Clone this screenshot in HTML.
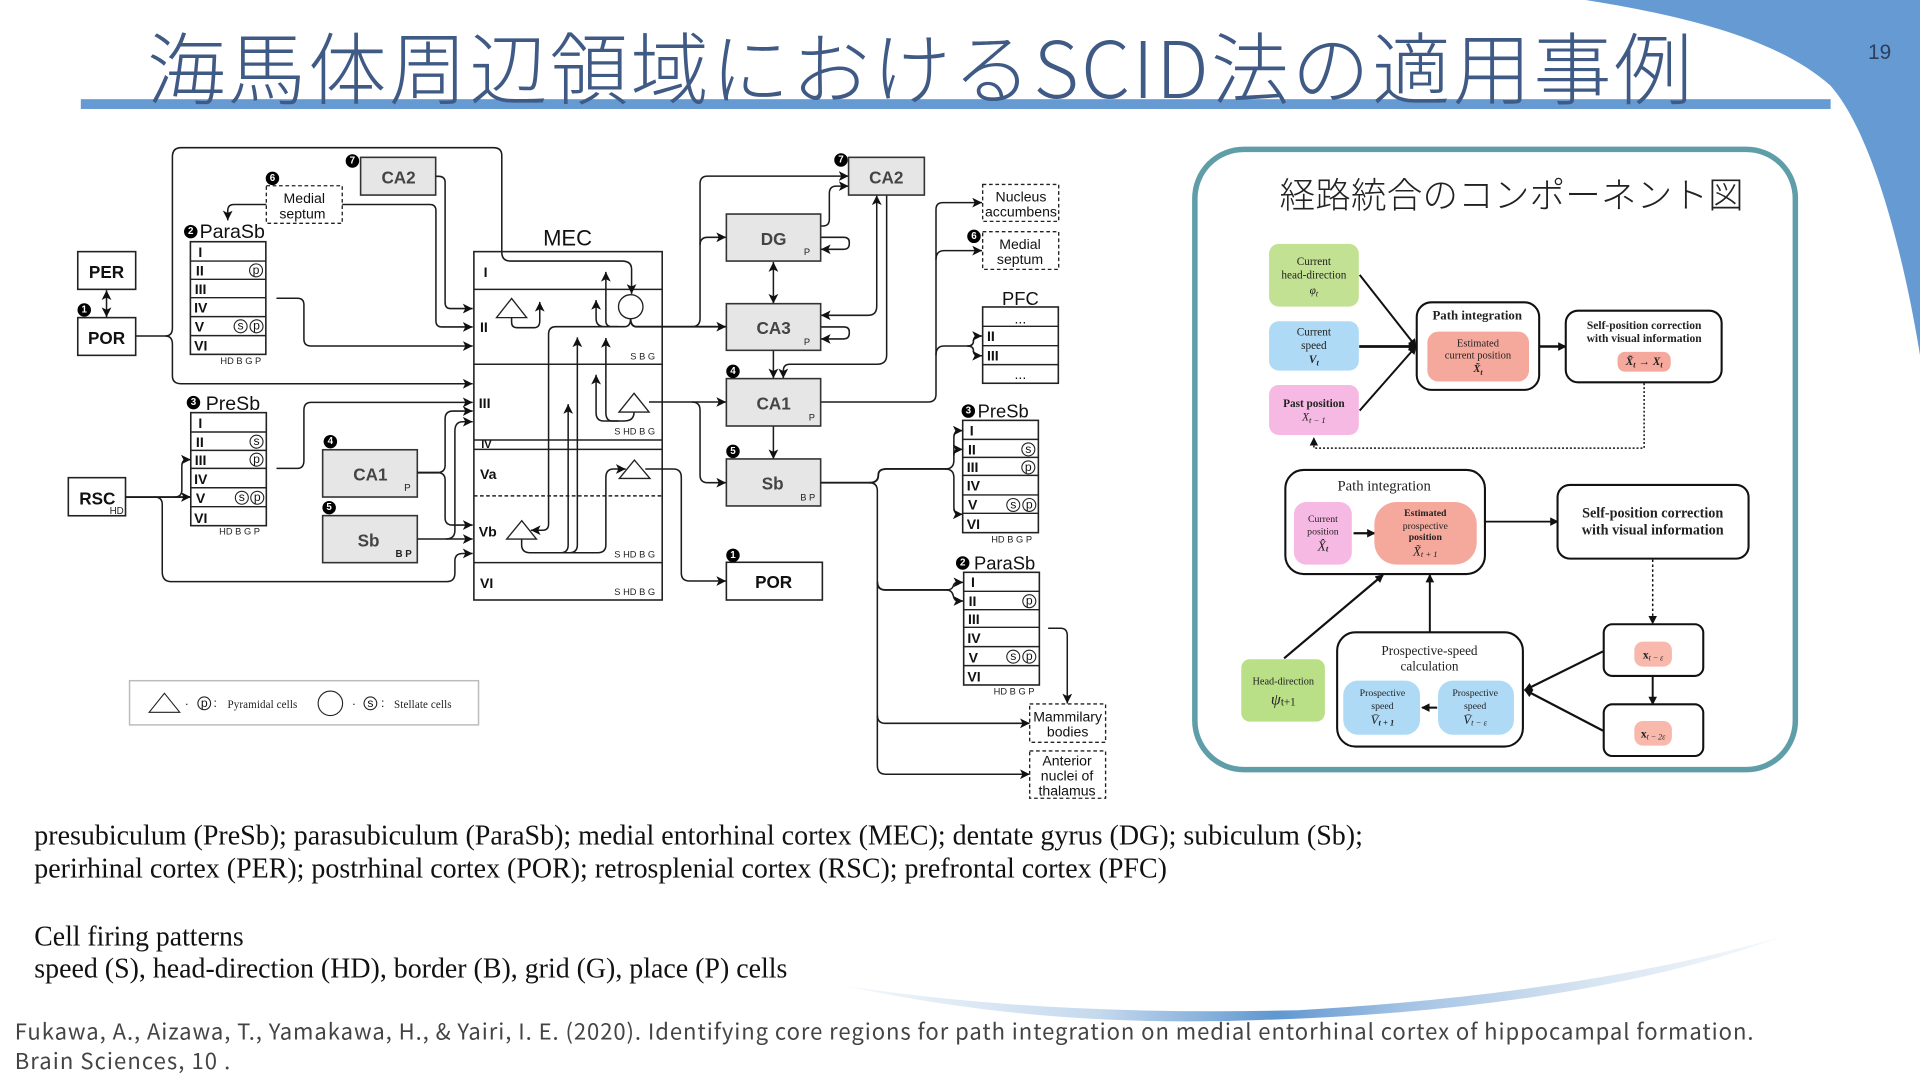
<!DOCTYPE html>
<html lang="ja"><head><meta charset="utf-8"><title>海馬体周辺領域におけるSCID法の適用事例</title>
<style>
html,body{margin:0;padding:0;background:#fff;width:1920px;height:1080px;overflow:hidden}
svg{display:block}
text{font-family:"Liberation Sans","Noto Sans CJK JP",sans-serif;fill:#111}
.w{fill:none;stroke:#1c1c1c;stroke-width:1.25}
.a{marker-end:url(#ah)}
.box{fill:#fff;stroke:#222;stroke-width:1.3}
.gb{fill:#e6e6e6;stroke:#333;stroke-width:1.3}
.dash{fill:#fff;stroke:#222;stroke-width:1.1;stroke-dasharray:3 2.2}
.rl{stroke:#222;stroke-width:1.2}
.b{font-weight:bold;font-size:14px;text-anchor:middle;dominant-baseline:central;fill:#111}
.g{font-weight:bold;font-size:14px;text-anchor:middle;dominant-baseline:central;fill:#444}
.r{font-weight:bold;font-size:11.5px;dominant-baseline:central}
.t{font-size:11.5px;text-anchor:middle;dominant-baseline:central}
.tt{font-size:16px}
.s{font-size:7.6px;dominant-baseline:central;fill:#222}
.n{fill:#000}
.nt{fill:#fff;font-size:8px;font-weight:bold;text-anchor:middle;dominant-baseline:central}
.cc{fill:#fff;stroke:#222;stroke-width:.9}
.ct{font-size:10px;text-anchor:middle;dominant-baseline:central}
.ser{font-family:"Liberation Serif","Noto Serif CJK SC",serif;text-anchor:middle;dominant-baseline:central;fill:#222}
.cb{fill:#fff;stroke:#111;stroke-width:1.7}
.cl{fill:none;stroke:#111;stroke-width:1.6}
.body{font-family:"Liberation Serif",serif;font-size:23px;fill:#111}
.cite{font-family:"Noto Sans CJK JP","Liberation Sans",sans-serif;font-size:18px;fill:#444}
</style></head><body>
<svg xmlns="http://www.w3.org/2000/svg" width="1920" height="1080" viewBox="0 0 1568 882">
<defs>
<marker id="ah" markerUnits="userSpaceOnUse" markerWidth="9" markerHeight="9" refX="8" refY="4" orient="auto"><path d="M0 0L8 4L0 8L2 4Z" fill="#111"/></marker>
<marker id="ah2" markerUnits="userSpaceOnUse" markerWidth="9" markerHeight="9" refX="8" refY="4" orient="auto-start-reverse"><path d="M0 0L8 4L0 8L2 4Z" fill="#111"/></marker>
<marker id="ak" markerUnits="userSpaceOnUse" markerWidth="8" markerHeight="8" refX="6" refY="3.5" orient="auto"><path d="M0 0L7 3.5L0 7Z" fill="#111"/></marker>
<linearGradient id="sw" gradientUnits="userSpaceOnUse" x1="690" y1="0" x2="1455" y2="0">
<stop offset="0" stop-color="#f4f8fb"/><stop offset=".27" stop-color="#c5d9ee"/><stop offset=".46" stop-color="#5f97d0"/><stop offset=".6" stop-color="#a5c3e4"/><stop offset=".8" stop-color="#d8e5f2"/><stop offset="1" stop-color="#f6f9fc"/>
</linearGradient>
</defs>

<path d="M1295 0C1370 12 1450 30 1495 70C1530 110 1555 210 1568 290V0Z" fill="#659ad2"/>
<rect x="66" y="81" width="1429" height="8" fill="#659ad2"/>
<text x="120" y="80" font-size="64" font-weight="300" textLength="1262" lengthAdjust="spacing" style="font-family:'Noto Sans CJK JP','Liberation Sans',sans-serif;fill:#3f5a85">海馬体周辺領域におけるSCID法の適用事例</text>
<text x="1535" y="48" font-size="17" text-anchor="middle" style="fill:#2d3f5c">19</text>
<path d="M690 805Q850 840 1030 833Q1290 825 1455 765Q1290 812 1060 825Q850 830 690 805Z" fill="url(#sw)"/>

<!-- LEFT -->
<rect class="box" x="63.5" y="205.5" width="47.3" height="30.8"/><text class="b" x="87" y="222">PER</text>
<rect class="box" x="63.5" y="259.4" width="47.3" height="30.8"/><text class="b" x="87" y="276">POR</text>
<path class="w" d="M87 237V259" marker-start="url(#ah2)" marker-end="url(#ah2)"/>
<circle class="n" cx="68.8" cy="253.2" r="5.5"/><text class="nt" x="68.8" y="253.2">1</text>

<rect class="box" x="155.5" y="197.4" width="61.6" height="92"/>
<path class="rl" d="M155.5 213.2H217M155.5 228.1H217M155.5 243.1H217M155.5 258.6H217M155.5 274.1H217"/>
<g class="r"><text class="r" x="162" y="206">I</text><text class="r" x="160" y="221">II</text><text class="r" x="159" y="236">III</text><text class="r" x="158.5" y="251">IV</text><text class="r" x="159" y="266.5">V</text><text class="r" x="158.5" y="282">VI</text></g>
<circle class="cc" cx="209.1" cy="220.8" r="5.3"/><text class="ct" x="209.1" y="220.5">p</text>
<circle class="cc" cx="196.5" cy="266.5" r="5.3"/><text class="ct" x="196.5" y="266">s</text>
<circle class="cc" cx="209.5" cy="266.5" r="5.3"/><text class="ct" x="209.5" y="266">p</text>
<text class="s" x="180" y="295">HD B G P</text>
<text class="tt" x="163" y="194.5">ParaSb</text>
<circle class="n" cx="155.8" cy="189.2" r="5.5"/><text class="nt" x="155.8" y="189.2">2</text>

<rect class="gb" x="294.5" y="128.5" width="61.3" height="30.8"/><text class="g" x="325.5" y="145">CA2</text>
<circle class="n" cx="287.8" cy="131.5" r="5.5"/><text class="nt" x="287.8" y="131.5">7</text>
<rect class="dash" x="217.5" y="151.7" width="62" height="30.7"/>
<text class="t" x="248.5" y="161.5">Medial</text><text class="t" x="247" y="174.5">septum</text>
<circle class="n" cx="222.5" cy="145.7" r="5.5"/><text class="nt" x="222.5" y="145.7">6</text>

<path class="w a" d="M217.5 167H191Q186 167 186 172V180"/>
<path class="w a" d="M279.5 167H351Q356 167 356 172V262Q356 267 361 267H386"/>
<path class="w a" d="M355.8 144H358Q363.5 144 363.5 149V247Q363.5 252 368 252H386"/>
<path class="w a" d="M135 274.4Q140.8 274.4 140.8 281V307Q140.8 313.4 148 313.4H386"/>
<path class="w a" d="M225.8 243.6H243Q248.2 243.6 248.2 249V277Q248.2 282.6 254 282.6H386"/>

<!-- MEC -->
<rect class="box" x="387" y="205.5" width="153.8" height="284.5"/>
<path class="rl" d="M387 236.3H541M387 297.5H541M387 359.3H541M387 367H541M387 459.5H541"/>
<path class="rl" d="M387 405H541" stroke-dasharray="3 2"/>
<path class="w a" d="M110.8 274.4H135Q140.8 274.4 140.8 268V128Q140.8 120.6 148 120.6H403Q409.8 120.6 409.8 127V206Q409.8 213.2 417 213.2H508Q515.8 213.2 515.8 220V240"/>
<text class="b" x="463.5" y="194.5" style="font-weight:normal;font-size:18px">MEC</text>
<text class="r" x="395" y="222">I</text><text class="r" x="392" y="267">II</text><text class="r" x="391" y="329">III</text><text class="r" x="393" y="363.4" style="font-size:9px">IV</text><text class="r" x="392" y="387">Va</text><text class="r" x="391" y="434">Vb</text><text class="r" x="392" y="476">VI</text>
<text class="s" x="535" y="291" text-anchor="end">S B G</text>
<text class="s" x="535" y="352.5" text-anchor="end">S HD B G</text>
<text class="s" x="535" y="452.7" text-anchor="end">S HD B G</text>
<text class="s" x="535" y="483.5" text-anchor="end">S HD B G</text>

<path class="w a" d="M515 260Q515 266.8 510 266.8H454Q448 266.8 448 273V428Q448 433 443 433H433.5"/>
<path class="w a" d="M515 260Q515 266.8 520 266.8H593" style="stroke-width:1.5"/>
<path class="w a" d="M505 266.8H500Q494.8 266.8 494.8 262V222"/>
<path class="w a" d="M494 266.8Q486.8 266.8 486.8 260V245"/>
<path class="w a" d="M417.8 259.4V263Q417.8 267.6 422 267.6H436Q440.8 267.6 440.8 262V246.5"/>
<path class="w a" d="M517.8 336.5Q517.8 343.8 510 343.8H493Q486.8 343.8 486.8 337V306"/>
<path class="w a" d="M505 343.8H500Q494.8 343.8 494.8 337V276"/>
<path class="w a" d="M530 328.3H593"/>
<path class="w a" d="M426 440V445Q426 451.4 433 451.4H488Q494.8 451.4 494.8 445V390Q494.8 383 501 383H511"/>
<path class="w a" d="M458 451.4Q464 451.4 464 445V330"/>
<path class="w a" d="M465 451.4Q471.5 451.4 471.5 445V275.5"/>
<path class="w a" d="M527 383H550Q556.4 383 556.4 390V468Q556.4 474.5 563 474.5H593"/>
<path class="box" d="M417.8 243.7L430.1 259.4H405.5Z" style="stroke-width:1.1"/>
<ellipse class="box" cx="515.1" cy="250.5" rx="10" ry="9.8" style="fill:none;stroke-width:1.1"/>
<path class="box" d="M517.8 321.2L530.1 336.5H505.5Z" style="stroke-width:1.1"/>
<path class="box" d="M518.1 375.7L530.8 390.7H505.8Z" style="stroke-width:1.1"/>
<path class="box" d="M426.1 425.2L438.1 440.2H413.8Z" style="stroke-width:1.1"/>

<!-- PreSb left -->
<rect class="box" x="155.8" y="337" width="61.7" height="92.3"/>
<path class="rl" d="M155.8 352.8H217.5M155.8 367.8H217.5M155.8 382.5H217.5M155.8 398.3H217.5M155.8 413.8H217.5"/>
<text class="r" x="162" y="345.5">I</text><text class="r" x="160" y="361">II</text><text class="r" x="159" y="375.5">III</text><text class="r" x="158.5" y="391">IV</text><text class="r" x="160" y="406.5">V</text><text class="r" x="158.5" y="423">VI</text>
<circle class="cc" cx="209.5" cy="360.7" r="5.3"/><text class="ct" x="209.5" y="360.2">s</text>
<circle class="cc" cx="209.5" cy="375.4" r="5.3"/><text class="ct" x="209.5" y="375">p</text>
<circle class="cc" cx="197.5" cy="406.5" r="5.3"/><text class="ct" x="197.5" y="406">s</text>
<circle class="cc" cx="210.1" cy="406.5" r="5.3"/><text class="ct" x="210.1" y="406">p</text>
<text class="s" x="179" y="434.2">HD B G P</text>
<text class="tt" x="168" y="335">PreSb</text>
<circle class="n" cx="158" cy="328.8" r="5.5"/><text class="nt" x="158" y="328.8">3</text>
<rect class="box" x="55.8" y="390.1" width="46.7" height="31.1"/><text class="b" x="79.5" y="407">RSC</text><text class="s" x="89.5" y="417.6" style="font-size:8px">HD</text>
<path class="w a" d="M102.5 405.9H155.8" style="stroke-width:1.5"/>
<path class="w a" d="M143 405.9Q148.5 405.9 148.5 400V381Q148.5 375.4 153 375.4H155.8"/>
<path class="w a" d="M126 405.9Q132.5 405.9 132.5 412V467Q132.5 475 140 475H365Q371.5 475 371.5 468V458Q371.5 452 378 452H386"/>
<path class="w a" d="M225.8 382.5H243Q248.2 382.5 248.2 376V335Q248.2 328.6 254 328.6H386"/>

<rect class="gb" x="263.5" y="367.3" width="77.3" height="38.6"/><text class="g" x="302.5" y="387.5">CA1</text><text class="s" x="330" y="398.8" style="font-size:8px">P</text>
<circle class="n" cx="269.8" cy="360.7" r="5.5"/><text class="nt" x="269.8" y="360.7">4</text>
<rect class="gb" x="263.5" y="421.1" width="77.3" height="38.4"/><text class="g" x="301" y="441.5">Sb</text><text class="s" x="323" y="453" style="font-size:8px;font-weight:bold">B P</text>
<circle class="n" cx="268.8" cy="414.6" r="5.5"/><text class="nt" x="268.8" y="414.6">5</text>
<path class="w" d="M340.8 386H358" style="stroke-width:1.6"/>
<path class="w a" d="M357 386Q363.5 386 363.5 380V342Q363.5 335.7 370 335.7H386"/>
<path class="w a" d="M357 386Q363.5 386 363.5 392V423Q363.5 428.8 370 428.8H386"/>
<path class="w a" d="M340.8 440.2H386"/>
<path class="w a" d="M364 440.2Q371.5 440.2 371.5 433V352Q371.5 344.4 378 344.4H386"/>

<!-- legend -->
<rect x="105.8" y="555.9" width="285" height="36.1" fill="#fff" stroke="#bbb" stroke-width="1.2"/>
<path d="M134.3 566.2L146.8 581.7H121.8Z" fill="#fff" stroke="#222" stroke-width=".9"/>
<text class="ct" x="152.5" y="574.5">·</text>
<circle class="cc" cx="166.8" cy="574.4" r="5.2"/><text class="ct" x="166.8" y="574">p</text>
<text class="ct" x="175.8" y="574">:</text>
<text x="185.8" y="578" font-size="9" textLength="57" style="font-family:'Liberation Serif',serif;fill:#222">Pyramidal cells</text>
<circle class="cc" cx="269.8" cy="574.4" r="10"/>
<text class="ct" x="289" y="574.5">·</text>
<circle class="cc" cx="302.5" cy="574.4" r="5.2"/><text class="ct" x="302.5" y="574">s</text>
<text class="ct" x="312.5" y="574">:</text>
<text x="321.8" y="578" font-size="9" textLength="47" style="font-family:'Liberation Serif',serif;fill:#222">Stellate cells</text>

<!-- HIPPOCAMPUS -->
<path class="w a" d="M565 266.8Q571.7 266.8 571.7 260V150Q571.7 143.8 578 143.8H693"/>
<path class="w a" d="M571.7 200Q571.7 193.8 578 193.8H593"/>
<path class="w a" d="M670.2 184.6H672Q677.3 184.6 677.3 179V158Q677.3 152 683 152H693"/>
<path class="w a" d="M670 193.8H689Q693.6 193.8 693.6 198V199Q693.6 203.6 689 203.6H670.4"/>
<path class="w" d="M631.6 214V248" marker-start="url(#ah2)" marker-end="url(#ah2)"/>
<path class="w" d="M716 159.5V250Q716 257.5 709 257.5H670.4" marker-start="url(#ah2)" marker-end="url(#ah2)"/>
<path class="w a" d="M670 267H689Q693.6 267 693.6 271V272Q693.6 276.8 689 276.8H670.4"/>
<path class="w a" d="M724.1 159.3V290Q724.1 297.5 716 297.5H645Q639.7 297.5 639.7 303V309"/>
<path class="w a" d="M631.6 286V309"/>
<path class="w a" d="M631.6 348V375"/>
<path class="w a" d="M565 328.3Q571.7 328.3 571.7 335V388Q571.7 394.2 578 394.2H593"/>
<path class="w a" d="M670.2 328.3H758Q764.4 328.3 764.4 322V171Q764.4 165.5 770 165.5H802"/>
<path class="w a" d="M764.4 212Q764.4 204.7 771 204.7H802"/>
<path class="w" d="M764.4 290Q764.4 282.6 771 282.6H792"/>
<path class="w a" d="M790 282.6Q795 282.6 795 278.5T800 274.4H802"/>
<path class="w a" d="M790 282.6Q795 282.6 795 286.5T800 290.5H802"/>

<rect class="gb" x="693" y="128.5" width="61.9" height="30.8"/><text class="g" x="723.8" y="145">CA2</text>
<circle class="n" cx="686.8" cy="130.7" r="5.5"/><text class="nt" x="686.8" y="130.7">7</text>
<rect class="gb" x="593.2" y="174.8" width="77" height="38.4"/><text class="g" x="631.8" y="195">DG</text><text class="s" x="656.5" y="206">P</text>
<rect class="gb" x="593.2" y="248" width="77" height="38.1"/><text class="g" x="631.8" y="268">CA3</text><text class="s" x="656.5" y="279.3">P</text>
<rect class="gb" x="593.2" y="309.2" width="77" height="38.7"/><text class="g" x="631.8" y="329.7">CA1</text><text class="s" x="660.5" y="340.8">P</text>
<circle class="n" cx="598.6" cy="303.3" r="5.5"/><text class="nt" x="598.6" y="303.3">4</text>
<rect class="gb" x="593.2" y="374.8" width="77" height="38.4"/><text class="g" x="631" y="395">Sb</text><text class="s" x="653.5" y="406.4">B P</text>
<circle class="n" cx="598.6" cy="368.6" r="5.5"/><text class="nt" x="598.6" y="368.6">5</text>
<rect class="box" x="593.2" y="459.2" width="78.4" height="30.8"/><text class="b" x="631.8" y="475.5">POR</text>
<circle class="n" cx="598.6" cy="453.5" r="5.5"/><text class="nt" x="598.6" y="453.5">1</text>

<!-- right targets -->
<rect class="dash" x="802.5" y="150.6" width="62.1" height="30.2"/><text class="t" x="833.8" y="160.6">Nucleus</text><text class="t" x="833.8" y="172.9">accumbens</text>
<rect class="dash" x="802.5" y="189.2" width="62.1" height="30.8"/><text class="t" x="833" y="199.3">Medial</text><text class="t" x="833" y="211.5">septum</text>
<circle class="n" cx="795.4" cy="193" r="5.5"/><text class="nt" x="795.4" y="193">6</text>
<rect class="box" x="802.5" y="250.7" width="61.8" height="62.3"/>
<path class="rl" d="M802.5 266.5H864.3M802.5 282.3H864.3M802.5 297.8H864.3"/>
<text class="t" x="833.3" y="243.7" style="font-size:15px">PFC</text>
<text class="t" x="833.3" y="260">...</text><text class="r" x="806" y="274.5">II</text><text class="r" x="806" y="290.5">III</text><text class="t" x="833.3" y="305.5">...</text>

<rect class="box" x="786.2" y="343.3" width="61.8" height="91.7"/>
<path class="rl" d="M786.2 358.8H848M786.2 373.5H848M786.2 388.2H848M786.2 404.2H848M786.2 419.2H848"/>
<text class="r" x="792" y="351.5">I</text><text class="r" x="790.5" y="367">II</text><text class="r" x="789.5" y="381.5">III</text><text class="r" x="789.5" y="396.5">IV</text><text class="r" x="790.5" y="412">V</text><text class="r" x="789.5" y="428">VI</text>
<circle class="cc" cx="839.8" cy="367" r="5.3"/><text class="ct" x="839.8" y="366.5">s</text>
<circle class="cc" cx="839.8" cy="381.7" r="5.3"/><text class="ct" x="839.8" y="381.2">p</text>
<circle class="cc" cx="827.5" cy="412.4" r="5.3"/><text class="ct" x="827.5" y="412">s</text>
<circle class="cc" cx="840.6" cy="412.4" r="5.3"/><text class="ct" x="840.6" y="412">p</text>
<text class="s" x="809.5" y="440.4">HD B G P</text>
<text class="tt" x="798.4" y="341" style="font-size:15px">PreSb</text>
<circle class="n" cx="790.8" cy="335.7" r="5.5"/><text class="nt" x="790.8" y="335.7">3</text>

<rect class="box" x="787" y="467.4" width="61.8" height="92"/>
<path class="rl" d="M787 482.9H848.8M787 497.9H848.8M787 512.3H848.8M787 528.1H848.8M787 543.6H848.8"/>
<text class="r" x="793" y="475.5">I</text><text class="r" x="791" y="491">II</text><text class="r" x="790.5" y="505.5">III</text><text class="r" x="790" y="521">IV</text><text class="r" x="791" y="537">V</text><text class="r" x="790" y="552.5">VI</text>
<circle class="cc" cx="840.6" cy="491" r="5.3"/><text class="ct" x="840.6" y="490.5">p</text>
<circle class="cc" cx="827.5" cy="536.3" r="5.3"/><text class="ct" x="827.5" y="535.8">s</text>
<circle class="cc" cx="840.6" cy="536.3" r="5.3"/><text class="ct" x="840.6" y="535.8">p</text>
<text class="s" x="811.5" y="564.8">HD B G P</text>
<text class="tt" x="795.4" y="465" style="font-size:15px">ParaSb</text>
<circle class="n" cx="786.2" cy="459.8" r="5.5"/><text class="nt" x="786.2" y="459.8">2</text>

<path class="w" d="M670.2 394.2H711" style="stroke-width:1.6"/>
<path class="w" d="M710 394.2Q717.3 394.2 717.3 388Q717.3 383 724 383H773" style="stroke-width:1.5"/>
<path class="w a" d="M772 383Q779 383 779 376V358Q779 351.7 784 351.7H786.2"/>
<path class="w a" d="M779 372Q779 367 784 367H786.2"/>
<path class="w a" d="M772 383Q779 383 779 390V414Q779 420 784 420H786.2"/>
<path class="w" d="M710 394.2Q716.5 394.2 716.5 401V625Q716.5 632.3 723 632.3H841" marker-end="url(#ah)"/>
<path class="w" d="M716.5 475Q716.5 481.8 723 481.8H775" style="stroke-width:1.5"/>
<path class="w a" d="M773 481.8Q777.5 481.8 778.5 478.5T783 475.6H786.7"/>
<path class="w a" d="M773 481.8Q777.5 481.8 778.5 486.5T783 490.8H786.7"/>
<path class="w a" d="M716.5 584Q716.5 590.7 723 590.7H841"/>
<path class="w a" d="M856 513.1H866Q871.6 513.1 871.6 519V574.5"/>
<rect class="dash" x="840.9" y="574.9" width="62" height="31.3"/><text class="t" x="871.9" y="585">Mammilary</text><text class="t" x="871.9" y="597.5">bodies</text>
<rect class="dash" x="840.9" y="613.3" width="62" height="38.6"/><text class="t" x="871.4" y="621.2">Anterior</text><text class="t" x="871.4" y="633.4">nuclei of</text><text class="t" x="871.4" y="645.7">thalamus</text>

<!-- CARD -->
<rect x="975.8" y="122" width="490.4" height="506.5" rx="40" fill="#fff" stroke="#5f9ea8" stroke-width="4.5"/>
<text x="1045" y="169.5" font-size="29" font-weight="300" textLength="379" lengthAdjust="spacing" style="font-family:'Noto Sans CJK JP',sans-serif;fill:#222">経路統合のコンポーネント図</text>

<path class="cl" d="M1110.4 224.5L1156.4 283" marker-end="url(#ak)"/>
<path class="cl" d="M1110 283H1156.4" style="stroke-width:2.2" marker-end="url(#ak)"/>
<path class="cl" d="M1110.4 335.3L1156.4 283" marker-end="url(#ak)"/>
<path class="cl" d="M1257 283H1278.5" style="stroke-width:2" marker-end="url(#ak)"/>
<path class="cl" d="M1342.7 313V366H1073V358" stroke-dasharray="1.6 1.6" style="stroke-width:1.2" marker-end="url(#ak)"/>
<rect x="1036.4" y="199.2" width="73.3" height="51.2" rx="8" fill="#c3e192"/>
<rect x="1036.4" y="262.4" width="73.3" height="40.3" rx="8" fill="#aedaf5"/>
<rect x="1036.4" y="314.4" width="73.3" height="40.8" rx="8" fill="#f6b9e3"/>
<g font-size="9.2"><text class="ser" x="1073" y="213.9">Current</text><text class="ser" x="1073" y="224.8">head-direction</text><text class="ser" x="1073" y="237.6" font-style="italic">φ<tspan font-size="7" dy="2">t</tspan></text>
<text class="ser" x="1073" y="271.6">Current</text><text class="ser" x="1073" y="282.5">speed</text><text class="ser" x="1073" y="294" font-weight="bold" font-style="italic">V<tspan font-size="7" dy="2">t</tspan></text>
<text class="ser" x="1073" y="329.9" font-weight="bold">Past position</text><text class="ser" x="1073" y="340.8" font-style="italic">X<tspan font-size="7" dy="2">t − 1</tspan></text></g>
<rect class="cb" x="1157" y="246.9" width="100" height="71.5" rx="12"/>
<text class="ser" x="1206.4" y="257.7" font-size="10.5" font-weight="bold">Path integration</text>
<rect x="1165.7" y="270.8" width="83" height="40.8" rx="9" fill="#f5a89c"/>
<g font-size="8.6"><text class="ser" x="1207" y="280.9">Estimated</text><text class="ser" x="1207" y="290.7">current position</text><text class="ser" x="1207" y="301.6" font-style="italic" font-weight="bold">X̃<tspan font-size="6.5" dy="2">t</tspan></text></g>
<rect class="cb" x="1278.7" y="253.7" width="127.3" height="58.5" rx="10"/>
<g font-size="9.4" font-weight="bold"><text class="ser" x="1342.7" y="266.2">Self-position correction</text><text class="ser" x="1342.7" y="277">with visual information</text></g>
<rect x="1321" y="287.4" width="43.4" height="16.1" rx="6" fill="#f5a89c"/>
<text class="ser" x="1342.7" y="295.6" font-size="9.4" font-weight="bold" font-style="italic">X̃<tspan font-size="6.5" dy="2">t</tspan><tspan dy="-2"> → X</tspan><tspan font-size="6.5" dy="2">t</tspan></text>

<!-- lower -->
<path class="cl" d="M1213 426H1272" style="stroke-width:1.5" marker-end="url(#ak)"/>
<path class="cl" d="M1349.7 457V509" stroke-dasharray="2 2" style="stroke-width:1.2" marker-end="url(#ak)"/>
<path class="cl" d="M1349.7 552V575" marker-end="url(#ak)"/>
<path class="cl" d="M1309 532L1245.4 563.5" style="stroke-width:1.8" marker-end="url(#ak)"/>
<path class="cl" d="M1309 596.7L1245.4 563.5" style="stroke-width:1.8" marker-end="url(#ak)"/>
<path class="cl" d="M1167.7 516.4V469.6" marker-end="url(#ak)"/>
<path class="cl" d="M1048.7 537.6L1129.4 469.6" style="stroke-width:1.8" marker-end="url(#ak)"/>

<rect class="cb" x="1049.7" y="383.8" width="163" height="85" rx="15"/>
<text class="ser" x="1130.4" y="397.4" font-size="12">Path integration</text>
<rect x="1056.7" y="410" width="47.3" height="51.1" rx="10" fill="#f6b9e3"/>
<g font-size="8"><text class="ser" x="1080.4" y="424.4">Current</text><text class="ser" x="1080.4" y="434.5">position</text></g>
<text class="ser" x="1080.4" y="446" font-size="11" font-style="italic">X̂<tspan font-size="7" dy="2" font-weight="bold">t</tspan></text>
<path class="cl" d="M1105.4 435.5H1122.5" style="stroke-width:1.9" marker-end="url(#ak)"/>
<rect x="1122.4" y="410" width="83.6" height="51.1" rx="18" fill="#f5a89c"/>
<g font-size="8"><text class="ser" x="1164" y="419.2" font-weight="bold">Estimated</text><text class="ser" x="1164" y="429.8">prospective</text><text class="ser" x="1164" y="439" font-weight="bold">position</text></g>
<text class="ser" x="1164" y="450.5" font-size="10.5" font-style="italic">X̃<tspan font-size="7" dy="2">t + 1</tspan></text>
<rect class="cb" x="1272" y="396" width="156" height="60.2" rx="10"/>
<g font-size="11.6" font-weight="bold"><text class="ser" x="1349.7" y="419.2">Self-position correction</text><text class="ser" x="1349.7" y="433.1">with visual information</text></g>

<rect class="cb" x="1309.7" y="509.8" width="81.3" height="42.2" rx="7"/>
<rect x="1334.7" y="524" width="30.7" height="20.4" rx="7" fill="#f8b8ac"/>
<text class="ser" x="1350" y="535" font-size="9.5" font-weight="bold">x<tspan font-size="6.5" dy="2" font-weight="normal" font-style="italic">t − ε</tspan></text>
<rect class="cb" x="1309.7" y="575.2" width="81.3" height="42.2" rx="7"/>
<rect x="1334.7" y="588.8" width="30.7" height="20.1" rx="7" fill="#f8b8ac"/>
<text class="ser" x="1350" y="599.5" font-size="9.5" font-weight="bold">x<tspan font-size="6.5" dy="2" font-weight="normal" font-style="italic">t − 2ε</tspan></text>

<rect class="cb" x="1092" y="516.4" width="151.7" height="93.3" rx="15"/>
<g font-size="10.8"><text class="ser" x="1167.4" y="531.4">Prospective-speed</text><text class="ser" x="1167.4" y="543.9">calculation</text></g>
<rect x="1097" y="555.8" width="62.7" height="44.2" rx="12" fill="#aedaf5"/>
<rect x="1174.4" y="555.8" width="62" height="44.2" rx="12" fill="#aedaf5"/>
<g font-size="8"><text class="ser" x="1129" y="566.5">Prospective</text><text class="ser" x="1129" y="576.8">speed</text><text class="ser" x="1204.7" y="566.5">Prospective</text><text class="ser" x="1204.7" y="576.8">speed</text></g>
<text class="ser" x="1129" y="588" font-size="10.5" font-style="italic">V̄<tspan font-size="7" dy="2" font-weight="bold">t + 1</tspan></text>
<text class="ser" x="1204.7" y="588" font-size="10.5" font-style="italic">V̄<tspan font-size="7" dy="2">t − ε</tspan></text>
<path class="cl" d="M1173.7 577.9H1161.5" style="stroke-width:1.7" marker-end="url(#ak)"/>
<rect x="1013.7" y="538.4" width="68.3" height="50.9" rx="7" fill="#b9df87"/>
<text class="ser" x="1048" y="557" font-size="8.4">Head-direction</text>
<text class="ser" x="1048" y="571.6" font-size="13" font-style="italic">ψ<tspan font-size="9" dy="2" font-style="normal">t+1</tspan></text>

<!-- bottom text -->
<text class="body" x="28" y="689.6" textLength="1085" lengthAdjust="spacingAndGlyphs">presubiculum (PreSb); parasubiculum (ParaSb); medial entorhinal cortex (MEC); dentate gyrus (DG); subiculum (Sb);</text>
<text class="body" x="28" y="716.6" textLength="925" lengthAdjust="spacingAndGlyphs">perirhinal cortex (PER); postrhinal cortex (POR); retrosplenial cortex (RSC); prefrontal cortex (PFC)</text>
<text class="body" x="28" y="772.3" textLength="171" lengthAdjust="spacingAndGlyphs">Cell firing patterns</text>
<text class="body" x="28" y="798.3" textLength="615" lengthAdjust="spacingAndGlyphs">speed (S), head-direction (HD), border (B), grid (G), place (P) cells</text>
<text class="cite" x="12" y="849" textLength="1420" lengthAdjust="spacing">Fukawa, A., Aizawa, T., Yamakawa, H., &amp; Yairi, I. E. (2020). Identifying core regions for path integration on medial entorhinal cortex of hippocampal formation.</text>
<text class="cite" x="12" y="873" textLength="176" lengthAdjust="spacing">Brain Sciences, 10 .</text>
</svg>
</body></html>
